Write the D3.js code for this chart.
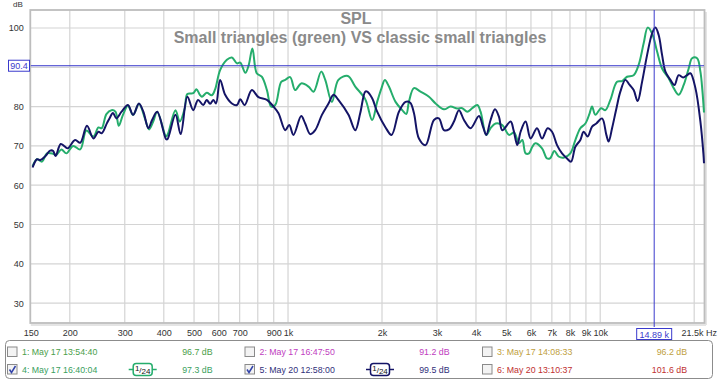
<!DOCTYPE html>
<html><head><meta charset="utf-8">
<script src="https://cdn.jsdelivr.net/npm/d3@7"></script>
<style>body{margin:0;background:#fff;overflow:hidden}svg{display:block;font-family:"Liberation Sans",Arial,sans-serif}</style>
</head><body><svg id="c" width="719" height="381"></svg>
<script>
// ---- data ----
const freqNavy=[152,157,161,167,173,177,180,187,193,197,208,216,227,238,247,253,263,268,275,282,293,307,319,333,344,357,367,381,407,411,436,453,476,497,515,535,549,563,577,588,606,629,661,686,703,726,766,804,856,899,932,980,1009,1041,1102,1135,1178,1222,1284,1348,1399,1450,1562,1642,1703,1767,1793,1860,1930,2053,2146,2266,2379,2463,2531,2626,2758,2934,3043,3158,3277,3401,3528,3661,3843,4089,4212,4316,4455,4602,4740,4857,5163,5279,5426,5559,5768,5985,6274,6511,6785,7009,7272,7546,7829,8064,8324,8636,8849,9115,9416,9719,10137,10463,10642,10913,11273,11601,12038,12425,12799,13181,13617,14129,14662,15024,15392,15785,16175,16780,17285,17838,18428,18980,19449,20182,20938,21407,21500];
const dbNavy=[64.5,66.6,66.4,67.4,68.8,68.7,67.4,70.5,69.8,69.4,71.5,70.8,75.1,71.9,73.6,73.2,75.8,77.0,78.4,77.0,78.7,80.4,77.9,80.8,78.7,74.5,76.6,78.7,71.7,71.7,77.9,73.0,82.5,79.1,81.7,80.4,81.7,80.7,81.7,80.8,86.8,83.0,80.8,80.4,81.9,80.4,84.2,82.4,81.7,80.0,78.3,74.0,75.3,72.8,77.6,75.7,73.0,74.0,77.9,80.8,83.0,81.7,77.9,74.0,78.3,83.8,83.8,82.1,78.7,74.7,72.8,78.7,81.2,81.0,78.4,71.9,70.2,76.6,77.0,74.0,74.2,76.2,79.1,76.6,74.5,77.6,74.9,72.8,76.6,79.3,77.4,74.0,76.2,74.0,70.2,73.6,76.2,71.9,74.5,71.9,74.5,73.6,70.2,68.1,66.8,66.0,69.8,71.5,73.6,72.4,74.9,75.7,77.0,72.8,71.1,74.5,79.6,83.8,86.8,85.5,84.2,81.4,86.3,93.1,98.6,100.1,98.2,93.1,88.9,86.8,85.5,88.0,87.4,88.0,88.5,84.7,76.2,68.0,65.6];
const freqGreen=[152,157,163,169,177,181,188,195,205,216,226,238,247,253,262,272,280,287,296,307,319,333,348,359,370,381,407,413,436,450,467,476,497,509,522,530,549,570,584,606,637,661,686,703,730,748,769,794,824,856,883,910,951,980,1016,1054,1102,1163,1207,1277,1316,1382,1450,1555,1642,1767,1860,1930,1993,2043,2105,2210,2322,2392,2439,2531,2658,2828,2969,3158,3316,3483,3615,3751,3892,4039,4138,4316,4455,4622,4857,5102,5295,5494,5630,5768,5915,6061,6197,6511,6754,6921,7129,7358,7635,8022,8324,8636,8962,9250,9416,9649,10062,10387,10776,11321,11748,12189,12799,13277,13778,14193,14662,15211,15785,16569,17194,17838,18511,19205,19696,20433,20938,21250,21500];
const dbGreen=[64.8,66.6,66.0,68.1,68.0,67.7,69.1,68.1,70.0,69.1,73.9,72.4,74.7,74.5,78.1,79.1,78.7,75.1,77.9,80.2,77.9,80.7,77.0,74.2,76.2,78.7,72.4,73.2,79.1,76.2,79.6,83.2,83.4,84.4,83.0,82.5,83.5,82.9,84.4,89.3,91.9,92.5,91.0,91.2,88.6,90.5,94.8,88.5,87.6,84.2,80.0,80.4,86.3,86.8,87.5,84.2,85.9,85.1,83.8,88.9,86.8,81.2,86.8,87.8,85.1,81.9,76.6,81.2,84.7,86.8,85.1,81.2,79.1,78.1,81.2,84.7,83.8,82.5,80.8,79.3,80.0,79.5,79.6,78.7,79.6,80.4,78.7,72.8,74.5,75.7,75.3,72.8,73.4,70.7,71.5,68.1,68.1,69.8,70.7,69.4,66.8,66.9,68.7,67.3,67.0,68.1,71.5,74.5,75.7,78.3,80.0,77.9,79.6,79.1,81.7,86.3,86.5,87.6,88.0,90.6,96.1,100.1,98.6,94.0,89.7,87.2,84.7,83.0,85.5,89.7,92.3,92.3,88.9,84.0,78.5];
const gridFreqs=[200,300,400,500,600,700,800,900,1000,2000,3000,4000,5000,6000,7000,8000,9000,10000,20000];
const xTickVals=[150,200,300,400,500,600,700,900,1000,2000,3000,4000,5000,6000,7000,8000,9000,10000];
const xTickLabels=["150","200","300","400","500","600","700","900","1k","2k","3k","4k","5k","6k","7k","8k","9k","10k"];
const yGrid=[30,40,50,60,70,80,90,100];
const yTickLabels=[30,40,50,60,70,80,100];
const cursorFreq=14890, cursorFreqLabel="14.89 k", cursorDb=90.4, cursorDbLabel="90.4";
const title="SPL", subtitle="Small triangles (green) VS classic small triangles";
const legendNames=["1: May 17 13:54:40","2: May 17 16:47:50","3: May 17 14:08:33","4: May 17 16:40:04","5: May 20 12:58:00","6: May 20 13:10:37"];
const legendValues=["96.7 dB","91.2 dB","96.2 dB","97.3 dB","99.5 dB","101.6 dB"];
const legendChecked=[false,false,false,true,true,false];
const legendSmoothing=[null,null,null,"1/24","1/24",null];
const legendColors=["#4a9e4a","#c03cc0","#c0a040","#3aa060","#30307a","#c03030"];

// ---- chart ----
const svg=d3.select("#c");
const L=30.8,R=704,T=10,B=323;
const x=d3.scaleLog().domain([150,21500]).range([L,R]);
const y=d3.scaleLinear().domain([24.94,104.58]).range([B,T]);

// grid
const g=svg.append("g");
g.selectAll("line.v").data(gridFreqs).join("line").attr("x1",d=>x(d)).attr("x2",d=>x(d)).attr("y1",T).attr("y2",B).attr("stroke","#d4d4d4").attr("stroke-width",1.2);
g.selectAll("line.h").data(yGrid).join("line").attr("x1",L).attr("x2",R).attr("y1",d=>y(d)).attr("y2",d=>y(d)).attr("stroke","#d4d4d4").attr("stroke-width",1.2);
// frame
svg.append("rect").attr("x",R+1).attr("y",T+2).attr("width",2).attr("height",B-T).attr("fill","#e4e4e4");
svg.append("rect").attr("x",L).attr("y",B+1).attr("width",R-L+2).attr("height",2).attr("fill","#e4e4e4");
svg.append("rect").attr("x",L-0.5).attr("y",T).attr("width",R-L+1).attr("height",B-T).attr("fill","none").attr("stroke","#bdbdbd").attr("stroke-width",1.8);

// axes labels
const xa=svg.append("g").attr("transform",`translate(0,${B})`).call(d3.axisBottom(x).tickValues(xTickVals).tickFormat((d,i)=>xTickLabels[i]).tickSize(0).tickPadding(7));
xa.select(".domain").remove();
xa.selectAll("text").attr("font-size",9).attr("fill","#333").attr("font-family","Liberation Sans, Arial");
const ya=svg.append("g").attr("transform",`translate(${L-3},0)`).call(d3.axisLeft(y).tickValues(yTickLabels).tickSize(0).tickPadding(4));
ya.select(".domain").remove();
ya.selectAll("text").attr("font-size",9).attr("fill","#333").attr("font-family","Liberation Sans, Arial");
svg.append("text").attr("x",18).attr("y",7).attr("text-anchor","middle").attr("font-size",8).attr("fill","#333").text("dB");
svg.append("text").attr("x",717).attr("y",B+13).attr("text-anchor","end").attr("font-size",9).attr("fill","#333").text("21.5k Hz");

// titles
svg.append("text").attr("x",356).attr("y",24).attr("text-anchor","middle").attr("font-size",16).attr("font-weight","bold").attr("fill","#8a8a8a").text(title);
svg.append("text").attr("x",360).attr("y",43).attr("text-anchor","middle").attr("font-size",16).attr("font-weight","bold").attr("fill","#8a8a8a").text(subtitle);

// curves
const line=d3.line().x(d=>x(d[0])).y(d=>y(d[1])).curve(d3.curveCatmullRom.alpha(0.5));
svg.append("path").datum(freqGreen.map((f,i)=>[f,dbGreen[i]])).attr("d",line).attr("fill","none").attr("stroke","#25ad6c").attr("stroke-width",2);
svg.append("path").datum(freqNavy.map((f,i)=>[f,dbNavy[i]])).attr("d",line).attr("fill","none").attr("stroke","#141466").attr("stroke-width",2);

// cursor
const cc="#3a3acc";
svg.append("line").attr("x1",L).attr("x2",R).attr("y1",y(cursorDb)).attr("y2",y(cursorDb)).attr("stroke",cc).attr("stroke-width",1);
svg.append("line").attr("x1",x(cursorFreq)).attr("x2",x(cursorFreq)).attr("y1",T).attr("y2",B+4).attr("stroke",cc).attr("stroke-width",1);
svg.append("rect").attr("x",8.5).attr("y",y(cursorDb)-5.5).attr("width",21).attr("height",11).attr("fill","#fff").attr("stroke",cc);
svg.append("text").attr("x",19).attr("y",y(cursorDb)+3.5).attr("text-anchor","middle").attr("font-size",9).attr("fill",cc).text(cursorDbLabel);
svg.append("rect").attr("x",x(cursorFreq)-17.5).attr("y",B+5.5).attr("width",35).attr("height",11).attr("fill","#fff").attr("stroke",cc);
svg.append("text").attr("x",x(cursorFreq)).attr("y",B+14.5).attr("text-anchor","middle").attr("font-size",9).attr("fill",cc).text(cursorFreqLabel);

// legend
svg.append("rect").attr("x",5.5).attr("y",340.5).attr("width",707).attr("height",38).attr("rx",4).attr("fill","#fff").attr("stroke","#8c8c8c");
const colX=[7.5,245,482.5], nameDx=14.5, valRight=[212.5,449.5,687], symX=[142.7,380], rowY=[352,369.5];
legendNames.forEach((n,i)=>{
  const col=i%3,row=Math.floor(i/3);
  const cx=colX[col],cy=rowY[row];
  const lg=svg.append("g");
  lg.append("rect").attr("x",cx).attr("y",cy-5).attr("width",9.5).attr("height",9.5).attr("fill","#f3f3f3").attr("stroke","#8a8a8a");
  if(legendChecked[i]) lg.append("path").attr("d",`M${cx+2},${cy} L${cx+4},${cy+3} L${cx+8},${cy-3.5}`).attr("fill","none").attr("stroke","#3344aa").attr("stroke-width",1.5);
  lg.append("text").attr("x",cx+nameDx).attr("y",cy+3.2).attr("font-size",8.8).attr("fill",legendColors[i]).text(n);
  lg.append("text").attr("x",valRight[col]).attr("y",cy+3.2).attr("text-anchor","end").attr("font-size",8.8).attr("fill",legendColors[i]).text(legendValues[i]);
  if(legendSmoothing[i]){
    const sc=i===3?"#25ad6c":"#141466", sx=symX[col];
    lg.append("line").attr("x1",sx-14).attr("x2",sx+14).attr("y1",cy).attr("y2",cy).attr("stroke",sc).attr("stroke-width",1.5);
    lg.append("rect").attr("x",sx-9.5).attr("y",cy-6).attr("width",19).attr("height",12).attr("rx",3).attr("fill","#fff").attr("stroke",sc).attr("stroke-width",1.5);
    const parts=legendSmoothing[i].split("/");
    const t=lg.append("text").attr("x",sx).attr("y",cy+3).attr("text-anchor","middle").attr("font-size",8).attr("fill","#111");
    t.append("tspan").attr("dy",-2).text(parts[0]);
    t.append("tspan").attr("dy",2).text("/");
    t.append("tspan").attr("dy",1.5).text(parts[1]);
  }
});
</script></body></html>
